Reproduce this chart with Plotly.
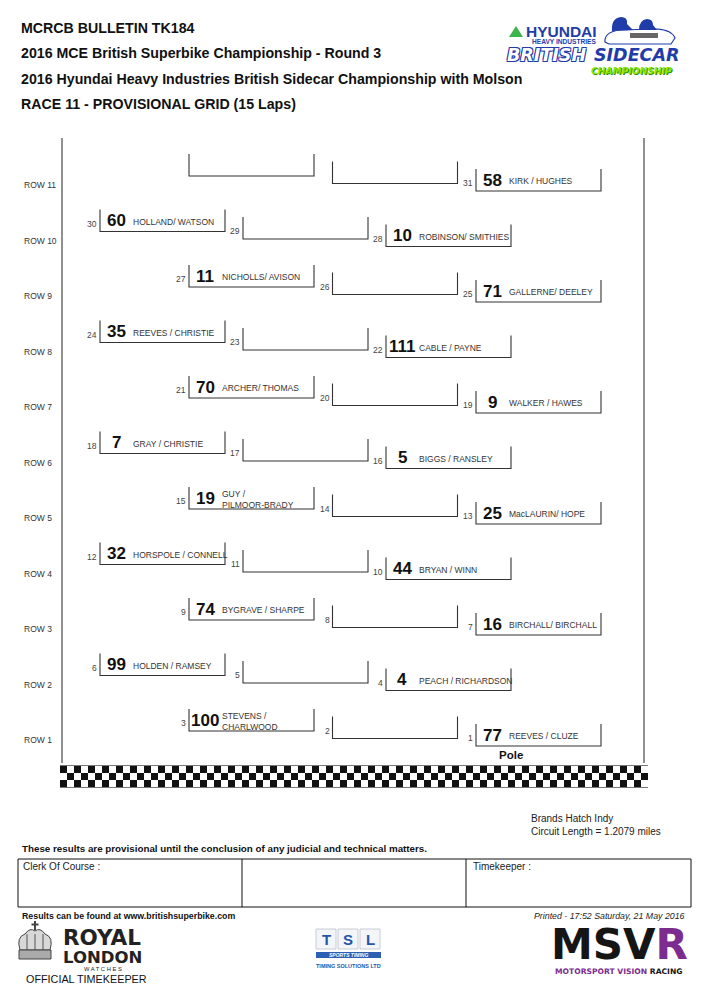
import plotly.graph_objects as go

# Fonts
SANS = "Liberation Sans, Arial, sans-serif"
WIDE = "DejaVu Sans, Verdana, sans-serif"

# Header text
header_lines = [
    "MCRCB BULLETIN TK184",
    "2016 MCE British Superbike Championship - Round 3",
    "2016 Hyundai Heavy Industries British Sidecar Championship with Molson",
    "RACE 11 - PROVISIONAL GRID (15 Laps)",
]

# Grid data: slot 1..33 (32 and 33 are empty unnumbered boxes)
grid_slots = list(range(1, 34))
car_numbers = [
    "77", "", "100", "4", "", "99", "16", "", "74", "44", "",
    "32", "25", "", "19", "5", "", "7", "9", "", "70", "111",
    "", "35", "71", "", "11", "10", "", "60", "58", "", "",
]
crews = [
    "REEVES / CLUZE", "", "STEVENS /<br>CHARLWOOD", "PEACH / RICHARDSON", "",
    "HOLDEN / RAMSEY", "BIRCHALL/ BIRCHALL", "", "BYGRAVE / SHARPE",
    "BRYAN / WINN", "", "HORSPOLE / CONNELL", "MacLAURIN/ HOPE", "",
    "GUY /<br>PILMOOR-BRADY", "BIGGS / RANSLEY", "", "GRAY / CHRISTIE",
    "WALKER / HAWES", "", "ARCHER/ THOMAS", "CABLE / PAYNE", "",
    "REEVES / CHRISTIE", "GALLERNE/ DEELEY", "", "NICHOLLS/ AVISON",
    "ROBINSON/ SMITHIES", "", "HOLLAND/ WATSON", "KIRK / HUGHES", "", "",
]
numbered_slots = 31
row_names = ["ROW %d" % r for r in range(1, 12)]

circuit_lines = ["Brands Hatch Indy", "Circuit Length = 1.2079 miles"]
disclaimer = "These results are provisional until the conclusion of any judicial and technical matters."
results_url = "Results can be found at www.britishsuperbike.com"
printed = "Printed - 17:52 Saturday, 21 May 2016"

# Layout geometry (pixels on the page)
ROW1_TOP = 709
ROW_PITCH = 55.5
COL_DROP = 7.5
BOX_W, BOX_H = 125, 22
ODD_LEFTS = [189, 332.5, 476]
EVEN_LEFTS = [100, 243, 386]
PAGE_OFFSET = 8  # body margin of the html page

fig = go.Figure()
shapes = []
ann = []


def text(x, y, s, size, color="#222", family=SANS, bold=False, italic=False,
         anchor="left", **kw):
    if bold:
        s = "<b>%s</b>" % s
    if italic:
        s = "<i>%s</i>" % s
    ann.append(dict(x=x, y=y, xref="x", yref="y", text=s, showarrow=False,
                    xanchor=anchor, yanchor="middle", align=anchor,
                    font=dict(size=size, color=color, family=family, **kw)))


# Header
for i, line in enumerate(header_lines):
    text(19, [28, 53, 79, 104][i], line, 14.2, "#111", bold=True)

# Hyundai sidecar logo (approximation)
shapes.append(dict(type="path", path="M 509 37 L 516 26 L 523 37 Z",
                   fillcolor="#3cb54a", line=dict(width=0)))
text(524, 31.5, "HYUNDAI", 15.5, "#1f3ca8", bold=True)
text(530, 41, "HEAVY INDUSTRIES", 6.6, "#1f3ca8", bold=True)
shapes.append(dict(type="path",
                   path="M 605 42 Q 604 32 620 30 L 657 29 Q 672 30 675 38 L 671 44 L 609 44 Z",
                   fillcolor="white", line=dict(color="#1f3ca8", width=1.2)))
shapes.append(dict(type="path",
                   path="M 612 31 Q 611 18 621 17 Q 628 17 627 24 L 633 30 Z",
                   fillcolor="#1f3ca8", line=dict(width=0)))
shapes.append(dict(type="path",
                   path="M 639 30 Q 639 20 647 19 Q 653 19 653 25 L 657 30 Z",
                   fillcolor="#1f3ca8", line=dict(width=0)))
shapes.append(dict(type="rect", x0=630, x1=658, y0=33, y1=38,
                   fillcolor="#666", line=dict(width=0)))
outline = ("-1px -1px 0 #1f3ca8, 1px -1px 0 #1f3ca8, "
           "-1px 1px 0 #1f3ca8, 1px 1px 0 #1f3ca8")
text(505, 54.5, "BRITISH", 17.5, "white", family=WIDE, bold=True, italic=True,
     shadow=outline)
text(592, 54.5, "SIDECAR", 17.5, "#1f3ca8", family=WIDE, bold=True, italic=True)
text(589, 70, "CHAMPIONSHIP", 9.2, "#86e600", family=WIDE, bold=True,
     italic=True, shadow="1px 1px 0 #2f8f00")

# Page frame around the grid
shapes.append(dict(type="line", x0=62, x1=62, y0=138, y1=763,
                   line=dict(color="#222", width=1)))
shapes.append(dict(type="line", x0=644, x1=644, y0=138, y1=763,
                   line=dict(color="#222", width=1)))

# Row labels
for r, name in enumerate(row_names, start=1):
    base = ROW1_TOP - (r - 1) * ROW_PITCH
    text(22, base + 31, name, 8.5, "#333")

# Grid boxes
for slot, num, crew in zip(grid_slots, car_numbers, crews):
    row = (slot - 1) // 3 + 1
    col = 2 - (slot - 1) % 3
    left = (ODD_LEFTS if row % 2 else EVEN_LEFTS)[col]
    top = ROW1_TOP - (row - 1) * ROW_PITCH + col * COL_DROP
    bottom = top + BOX_H
    right = left + BOX_W
    shapes.append(dict(type="path",
                       path="M %s %s L %s %s L %s %s L %s %s" % (
                           left, top, left, bottom, right, bottom, right, top),
                       line=dict(color="#333", width=1.1)))
    if slot <= numbered_slots:
        text(left - 1, bottom - 8, str(slot), 8.5, "#444", anchor="right")
    if num:
        text(left + 16, top + 11, num, 17, "#111", bold=True, anchor="center")
        text(left + 31, top + 12, crew, 8.5, "#333")
    if slot == 1:
        text(left + 35, bottom + 9, "Pole", 11.5, "#111", bold=True,
             anchor="center")

# Chequered strip
n_sq = 84
sq = 7
z = [[(i + j) % 2 for j in range(n_sq)] for i in range(3)]
fig.add_trace(go.Heatmap(
    z=z, x0=60 + sq / 2, dx=sq, y0=766 + sq / 2, dy=sq,
    colorscale=[[0, "#111"], [1, "white"]], showscale=False,
    hoverinfo="skip", zmin=0, zmax=1,
))
shapes.append(dict(type="line", x0=60, x1=648, y0=765.5, y1=765.5,
                   line=dict(color="#777", width=1)))
shapes.append(dict(type="line", x0=60, x1=648, y0=787.5, y1=787.5,
                   line=dict(color="#777", width=1)))

# Circuit info and disclaimer
text(529, 818, circuit_lines[0], 10, "#222")
text(529, 831, circuit_lines[1], 10, "#222")
text(20, 848, disclaimer, 9.8, "#111", bold=True)

# Signature table
shapes.append(dict(type="rect", x0=18, x1=691, y0=859, y1=907,
                   line=dict(color="#111", width=1)))
for xv in [242, 466]:
    shapes.append(dict(type="line", x0=xv, x1=xv, y0=859, y1=907,
                       line=dict(color="#111", width=1)))
text(21, 866, "Clerk Of Course :", 10, "#222")
text(471, 866, "Timekeeper :", 10, "#222")

text(20, 915.5, results_url, 8.8, "#111", bold=True)
text(687, 915.5, printed, 8.8, "#222", italic=True, anchor="right")

# Royal London logo (approximation)
shapes.append(dict(type="path",
                   path="M 20 950 Q 16 937 25 934 Q 30 927 35 931 Q 40 927 45 934 Q 54 937 50 950 Z",
                   fillcolor="#d8d8d8", line=dict(color="#444", width=1)))
for px_ in [27, 35, 43]:
    shapes.append(dict(type="line", x0=px_, x1=px_, y0=934, y1=950,
                       line=dict(color="#555", width=1)))
shapes.append(dict(type="rect", x0=19, x1=51, y0=950, y1=959,
                   fillcolor="#aaa", line=dict(color="#444", width=1)))
shapes.append(dict(type="line", x0=35, x1=35, y0=921, y1=930,
                   line=dict(color="#444", width=2)))
shapes.append(dict(type="line", x0=31.5, x1=38.5, y0=924.5, y1=924.5,
                   line=dict(color="#444", width=2)))
text(61, 937, "ROYAL", 21.5, "#222", family=WIDE, bold=True)
text(61, 957, "LONDON", 16.5, "#222", family=WIDE, bold=True)
text(103, 968.5, "W A T C H E S", 5.8, "#222", anchor="center")
text(24, 978.5, "OFFICIAL TIMEKEEPER", 10.8, "#111")

# TSL logo (approximation)
for k, letter in enumerate("TSL"):
    x0 = 316 + k * 22
    shapes.append(dict(type="rect", x0=x0, x1=x0 + 20, y0=929, y1=949,
                       fillcolor="#f3f5f8", line=dict(color="#c8ccd4", width=1)))
    text(x0 + 10, 939.5, letter, 15, "#2456a8", bold=True, anchor="center")
shapes.append(dict(type="rect", x0=316, x1=381, y0=952, y1=958,
                   fillcolor="#2d5fb2", line=dict(width=0)))
text(348.5, 955, "SPORTS TIMING", 5, "white", bold=True, italic=True,
     anchor="center")
text(348.5, 966, "TIMING SOLUTIONS LTD", 5.5, "#2456a8", bold=True,
     anchor="center")

# MSVR logo (approximation)
text(619, 944, "MSV<span style='color:#7b2c8e'>R</span>", 42, "#151515",
     family=WIDE, bold=True, anchor="center")
text(619, 971, "MOTORSPORT VISION <span style='color:#151515'>RACING</span>",
     7.6, "#7b2c8e", family=WIDE, bold=True, anchor="center")

fig.update_layout(
    width=707 - PAGE_OFFSET, height=1000 - PAGE_OFFSET,
    margin=dict(l=0, r=0, t=0, b=0),
    paper_bgcolor="white", plot_bgcolor="white",
    xaxis=dict(range=[PAGE_OFFSET, 707], visible=False, fixedrange=True),
    yaxis=dict(range=[1000, PAGE_OFFSET], visible=False, fixedrange=True),
    shapes=shapes, annotations=ann, showlegend=False,
)
fig.write_html("out.html")
